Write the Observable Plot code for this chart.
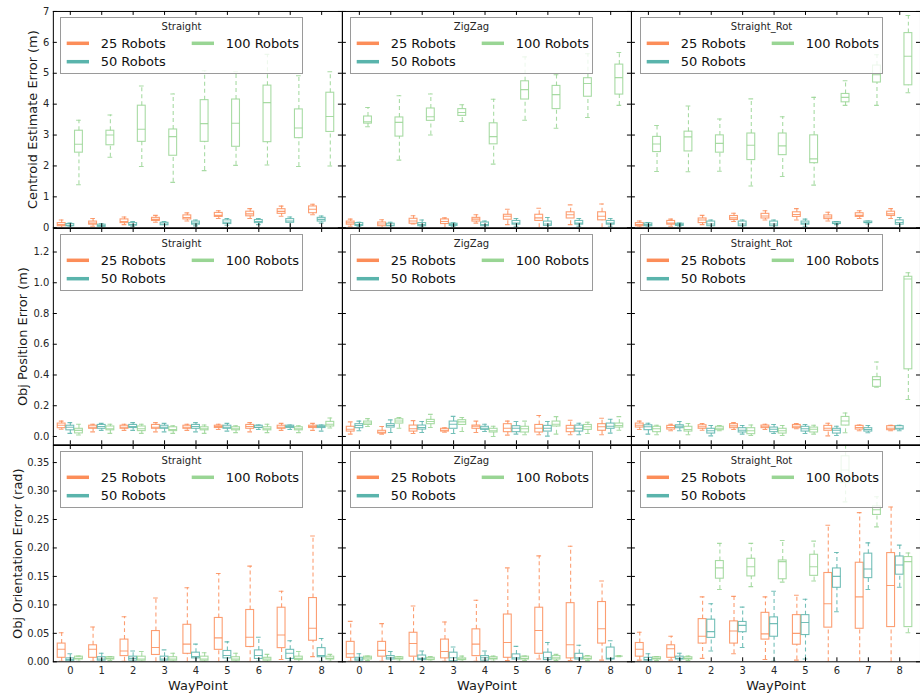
<!DOCTYPE html>
<html><head><meta charset="utf-8">
<script src="https://cdn.jsdelivr.net/npm/d3@7"></script>
<script src="https://cdn.jsdelivr.net/npm/@observablehq/plot@0.6"></script>
<style>
html,body{margin:0;padding:0;overflow:hidden;background:#fff;width:920px;height:698px}
#fig{position:relative;width:920px;height:698px;overflow:hidden;font-family:"DejaVu Sans",sans-serif}
#fig > div, #fig > svg{position:absolute}
</style></head><body><div id="fig"></div>
<script>
// ---------- categories / labels ----------
const patterns = ["Straight", "ZigZag", "Straight_Rot"];
const series = ["25 Robots", "50 Robots", "100 Robots"];
const seriesColors = ["#fc8d59", "#5ab4ac", "#99d594"];
const waypoints = [0, 1, 2, 3, 4, 5, 6, 7, 8];
const metricLabels = ["Centroid Estimate Error (m)", "Obj Position Error (m)", "Obj Orientation Error (rad)"];
const xLabel = "WayPoint";
const cenTicks = [0, 1, 2, 3, 4, 5, 6, 7];
const posTicks = [0, 0.2, 0.4, 0.6, 0.8, 1.0, 1.2];
const oriTicks = [0, 0.05, 0.10, 0.15, 0.20, 0.25, 0.30, 0.35];

// ---------- box statistics per waypoint: [low whisker, Q1, median, Q3, high whisker] ----------
// Centroid Estimate Error (m)
const cenStraight25 = [[0.0,0.05,0.1,0.15,0.25],[0.05,0.1,0.15,0.2,0.3],[0.1,0.15,0.2,0.27,0.35],[0.18,0.22,0.27,0.32,0.4],[0.22,0.27,0.33,0.4,0.48],[0.3,0.35,0.4,0.48,0.55],[0.3,0.37,0.45,0.52,0.62],[0.37,0.45,0.53,0.6,0.7],[0.42,0.47,0.6,0.69,0.76]];
const cenStraight50 = [[0.02,0.05,0.08,0.12,0.15],[0.0,0.03,0.07,0.1,0.13],[0.03,0.07,0.1,0.15,0.2],[0.0,0.08,0.12,0.16,0.2],[0.06,0.1,0.15,0.2,0.25],[0.08,0.12,0.18,0.24,0.3],[0.1,0.15,0.2,0.25,0.3],[0.0,0.16,0.22,0.28,0.35],[0.15,0.2,0.27,0.32,0.38]];
const cenStraight100 = [[1.39,2.43,2.70,3.14,3.48],[2.28,2.67,3.0,3.14,3.65],[1.98,2.78,3.19,3.95,4.59],[1.47,2.33,2.95,3.18,4.33],[1.85,2.78,3.37,4.13,5.08],[2.02,2.62,3.38,4.15,5.05],[2.03,2.77,4.05,4.60,5.61],[1.98,2.90,3.23,3.83,4.92],[2.0,3.10,3.60,4.37,5.05]];
const cenZigZag25 = [[0.05,0.1,0.16,0.2,0.28],[0.0,0.05,0.12,0.17,0.26],[0.12,0.13,0.22,0.29,0.39],[0.0,0.12,0.2,0.27,0.32],[0.15,0.2,0.28,0.32,0.42],[0.1,0.26,0.37,0.42,0.6],[0.0,0.22,0.32,0.42,0.63],[0.1,0.3,0.42,0.5,0.74],[0.0,0.24,0.37,0.5,0.77]];
const cenZigZag50 = [[0.03,0.06,0.1,0.15,0.18],[0.0,0.05,0.08,0.13,0.18],[0.02,0.05,0.1,0.15,0.25],[0.03,0.06,0.1,0.13,0.16],[0.0,0.05,0.1,0.17,0.22],[0.05,0.1,0.15,0.22,0.3],[0.0,0.06,0.12,0.2,0.33],[0.05,0.1,0.15,0.22,0.3],[0.05,0.1,0.15,0.22,0.3]];
const cenZigZag100 = [[3.27,3.37,3.43,3.60,3.89],[2.19,2.95,3.41,3.57,4.27],[3.0,3.46,3.59,3.86,4.33],[3.44,3.62,3.73,3.84,3.98],[2.06,2.70,2.95,3.38,4.16],[3.48,4.15,4.47,4.74,5.53],[3.22,3.84,4.31,4.59,4.95],[3.57,4.24,4.67,4.84,5.63],[3.96,4.31,4.86,5.28,5.67]];
const cenRot25 = [[0.02,0.05,0.1,0.15,0.22],[0.05,0.1,0.15,0.22,0.28],[0.1,0.15,0.25,0.3,0.4],[0.2,0.25,0.32,0.38,0.47],[0.25,0.3,0.38,0.45,0.55],[0.25,0.35,0.43,0.5,0.62],[0.22,0.28,0.35,0.4,0.5],[0.3,0.35,0.4,0.47,0.55],[0.3,0.38,0.45,0.52,0.62]];
const cenRot50 = [[0.02,0.05,0.1,0.14,0.17],[0.02,0.06,0.1,0.13,0.15],[0.0,0.05,0.12,0.2,0.25],[0.0,0.05,0.12,0.2,0.25],[0.0,0.05,0.12,0.2,0.25],[0.05,0.1,0.15,0.2,0.28],[0.1,0.12,0.15,0.18,0.2],[0.12,0.15,0.17,0.2,0.22],[0.0,0.1,0.17,0.24,0.33]];
const cenRot100 = [[1.82,2.45,2.71,2.94,3.31],[1.81,2.47,2.94,3.11,3.94],[1.83,2.43,2.73,2.99,3.52],[1.35,2.19,2.67,3.05,4.17],[1.66,2.35,2.65,3.05,3.59],[1.38,2.09,2.23,2.99,4.22],[3.96,4.06,4.22,4.33,4.76],[3.96,4.70,4.95,5.25,5.60],[4.37,4.61,5.55,6.30,6.87]];
// Obj Position Error (m)
const posStraight25 = [[0.047,0.054,0.073,0.084,0.10],[0.03,0.05,0.06,0.07,0.08],[0.04,0.05,0.06,0.07,0.08],[0.03,0.05,0.06,0.075,0.09],[0.04,0.05,0.06,0.07,0.08],[0.045,0.055,0.065,0.07,0.08],[0.03,0.05,0.065,0.075,0.09],[0.04,0.05,0.06,0.07,0.085],[0.04,0.055,0.065,0.07,0.085]];
const posStraight50 = [[0.02,0.04,0.06,0.07,0.09],[0.04,0.05,0.065,0.075,0.085],[0.04,0.055,0.065,0.075,0.09],[0.03,0.05,0.06,0.07,0.085],[0.03,0.05,0.065,0.075,0.09],[0.035,0.05,0.06,0.07,0.085],[0.045,0.055,0.06,0.07,0.075],[0.045,0.055,0.065,0.07,0.075],[0.035,0.055,0.065,0.07,0.075]];
const posStraight100 = [[0.01,0.02,0.04,0.05,0.08],[0.02,0.04,0.05,0.065,0.08],[0.02,0.035,0.05,0.065,0.08],[0.02,0.035,0.045,0.06,0.07],[0.02,0.04,0.05,0.06,0.075],[0.025,0.04,0.05,0.06,0.07],[0.025,0.04,0.05,0.06,0.08],[0.025,0.04,0.05,0.06,0.07],[0.055,0.065,0.08,0.095,0.12]];
const posZigZag25 = [[0.015,0.032,0.047,0.063,0.095],[0.015,0.019,0.028,0.037,0.065],[0.019,0.032,0.05,0.071,0.103],[0.028,0.032,0.041,0.05,0.056],[0.026,0.05,0.067,0.071,0.10],[0.009,0.028,0.054,0.08,0.10],[0.011,0.026,0.054,0.075,0.136],[0.011,0.028,0.054,0.069,0.106],[0.011,0.037,0.063,0.08,0.119]];
const posZigZag50 = [[0.037,0.054,0.071,0.08,0.10],[0.026,0.058,0.071,0.08,0.108],[0.026,0.045,0.058,0.071,0.097],[0.019,0.05,0.08,0.097,0.131],[0.032,0.043,0.054,0.063,0.08],[0.015,0.028,0.054,0.067,0.097],[0.002,0.032,0.054,0.069,0.097],[0.011,0.032,0.054,0.071,0.086],[0.022,0.05,0.067,0.084,0.112]];
const posZigZag100 = [[0.065,0.075,0.088,0.097,0.116],[0.054,0.084,0.101,0.112,0.123],[0.058,0.08,0.097,0.108,0.144],[0.032,0.075,0.095,0.106,0.123],[0.0,0.026,0.037,0.05,0.067],[0.011,0.026,0.05,0.063,0.10],[0.015,0.065,0.08,0.097,0.129],[0.019,0.043,0.063,0.075,0.093],[0.041,0.058,0.071,0.084,0.129]];
const posRot25 = [[0.045,0.058,0.073,0.084,0.10],[0.037,0.045,0.058,0.069,0.08],[0.041,0.05,0.063,0.073,0.084],[0.045,0.054,0.069,0.08,0.09],[0.045,0.054,0.063,0.071,0.08],[0.05,0.054,0.067,0.075,0.084],[0.004,0.037,0.054,0.069,0.086],[0.037,0.045,0.058,0.069,0.075],[0.037,0.041,0.054,0.067,0.073]];
const posRot50 = [[0.015,0.041,0.063,0.073,0.086],[0.037,0.054,0.067,0.073,0.097],[0.004,0.019,0.037,0.05,0.071],[0.015,0.026,0.041,0.054,0.071],[0.019,0.028,0.047,0.058,0.078],[0.019,0.032,0.05,0.063,0.078],[0.006,0.019,0.041,0.05,0.067],[0.024,0.032,0.045,0.054,0.071],[0.037,0.045,0.054,0.067,0.073]];
const posRot100 = [[0.011,0.028,0.05,0.063,0.073],[0.011,0.032,0.045,0.063,0.084],[0.037,0.041,0.054,0.063,0.071],[0.006,0.015,0.037,0.054,0.075],[0.006,0.019,0.037,0.05,0.071],[0.015,0.026,0.047,0.058,0.073],[0.024,0.071,0.101,0.127,0.153],[0.32,0.323,0.37,0.386,0.485],[0.241,0.437,1.024,1.039,1.065]];
// Obj Orientation Error (rad)
const oriStraight25 = [[0.001,0.007,0.022,0.032,0.051],[0.001,0.007,0.022,0.029,0.061],[0.001,0.01,0.019,0.039,0.079],[0.0,0.012,0.025,0.054,0.112],[0.0,0.014,0.031,0.065,0.130],[0.0,0.021,0.042,0.077,0.155],[0.0,0.026,0.043,0.091,0.168],[0.004,0.024,0.047,0.095,0.124],[0.009,0.037,0.059,0.112,0.221]];
const oriStraight50 = [[0.0,0.001,0.004,0.006,0.014],[0.0,0.002,0.005,0.008,0.015],[0.0,0.002,0.006,0.009,0.019],[0.0,0.002,0.005,0.009,0.021],[0.0,0.006,0.009,0.016,0.031],[0.001,0.006,0.011,0.019,0.035],[0.001,0.005,0.011,0.020,0.043],[0.001,0.005,0.015,0.021,0.037],[0.001,0.008,0.011,0.024,0.041]];
const oriStraight100 = [[0.001,0.004,0.006,0.009,0.01],[0.002,0.004,0.006,0.008,0.009],[0.0,0.002,0.005,0.009,0.018],[0.0,0.002,0.005,0.008,0.015],[0.0,0.002,0.005,0.009,0.016],[0.0,0.002,0.005,0.008,0.015],[0.0,0.002,0.005,0.007,0.013],[0.0,0.003,0.006,0.009,0.018],[0.001,0.004,0.006,0.009,0.013]];
const oriZigZag25 = [[0.001,0.007,0.014,0.035,0.071],[0.001,0.009,0.020,0.035,0.067],[0.001,0.009,0.032,0.051,0.098],[0.001,0.006,0.018,0.039,0.070],[0.001,0.010,0.031,0.057,0.108],[0.002,0.007,0.034,0.083,0.165],[0.005,0.014,0.055,0.095,0.186],[0.002,0.006,0.030,0.103,0.203],[0.003,0.032,0.058,0.105,0.142]];
const oriZigZag50 = [[0.0,0.002,0.005,0.007,0.014],[0.0,0.004,0.007,0.010,0.018],[0.0,0.003,0.006,0.011,0.019],[0.0,0.001,0.007,0.016,0.026],[0.0,0.002,0.007,0.010,0.019],[0.0,0.004,0.007,0.013,0.027],[0.0,0.003,0.007,0.016,0.034],[0.0,0.004,0.007,0.014,0.029],[0.0,0.004,0.006,0.025,0.037]];
const oriZigZag100 = [[0.002,0.004,0.007,0.009,0.010],[0.001,0.004,0.006,0.008,0.009],[0.001,0.003,0.005,0.007,0.009],[0.001,0.003,0.005,0.006,0.010],[0.001,0.004,0.006,0.008,0.010],[0.002,0.004,0.006,0.009,0.010],[0.002,0.004,0.007,0.010,0.013],[0.002,0.004,0.006,0.009,0.011],[0.009,0.010,0.010,0.010,0.011]];
const oriRot25 = [[0.003,0.009,0.022,0.033,0.052],[0.003,0.007,0.023,0.029,0.045],[0.006,0.032,0.045,0.075,0.114],[0.014,0.032,0.054,0.071,0.115],[0.004,0.039,0.049,0.086,0.114],[0.003,0.030,0.050,0.082,0.117],[0.0,0.060,0.102,0.156,0.240],[0.0,0.058,0.114,0.174,0.262],[0.0,0.061,0.134,0.191,0.272]];
const oriRot50 = [[0.0,0.002,0.004,0.007,0.014],[0.001,0.004,0.006,0.009,0.015],[0.019,0.042,0.053,0.074,0.102],[0.025,0.052,0.064,0.070,0.096],[0.001,0.044,0.067,0.078,0.124],[0.005,0.047,0.069,0.082,0.110],[0.088,0.130,0.150,0.164,0.192],[0.127,0.147,0.163,0.190,0.209],[0.131,0.153,0.170,0.185,0.205]];
const oriRot100 = [[0.002,0.004,0.006,0.008,0.009],[0.002,0.004,0.006,0.008,0.010],[0.127,0.146,0.165,0.177,0.208],[0.132,0.150,0.167,0.181,0.208],[0.140,0.145,0.176,0.178,0.213],[0.142,0.151,0.167,0.188,0.212],[0.281,0.314,0.337,0.361,0.40],[0.237,0.258,0.267,0.273,0.290],[0.051,0.061,0.176,0.184,0.191]];

// ---------- layout ----------
const LEFT = 53, PANEL_W = 290, ROW_H = 217;
const rowTops = [11, 228, 445];
const seriesOffset = [-0.275, 0, 0.275];
const BOX_HALF = 0.125, CAP_HALF = 0.075;

const rows = [
  {label: metricLabels[0], domain: [0, 7], ticks: cenTicks, fmt: d3.format("d"), labelDx: -21,
   data: [[cenStraight25, cenStraight50, cenStraight100], [cenZigZag25, cenZigZag50, cenZigZag100], [cenRot25, cenRot50, cenRot100]]},
  {label: metricLabels[1], domain: [-0.054, 1.353], ticks: posTicks, fmt: d3.format(".1f"), labelDx: -31,
   data: [[posStraight25, posStraight50, posStraight100], [posZigZag25, posZigZag50, posZigZag100], [posRot25, posRot50, posRot100]]},
  {label: metricLabels[2], domain: [0, 0.38], ticks: oriTicks, fmt: d3.format(".2f"), labelDx: -36,
   data: [[oriStraight25, oriStraight50, oriStraight100], [oriZigZag25, oriZigZag50, oriZigZag100], [oriRot25, oriRot50, oriRot100]]}
];

const fig = document.getElementById("fig");
const pos = d => d.wp + seriesOffset[d.si];

rows.forEach((row, r) => {
  const records = [];
  patterns.forEach((p, pi) => series.forEach((s, si) => waypoints.forEach((w, wi) => {
    const [lo, q1, med, q3, hi] = row.data[pi][si][wi];
    records.push({pattern: p, series: s, si, wp: w, lo, q1, med, q3, hi});
  })));
  const last = r === rows.length - 1;
  const marginTop = r === 0 ? rowTops[0] : 0;
  const marginBottom = last ? 698 - rowTops[2] - ROW_H : 0;
  const marks = [];
  series.forEach((s, si) => {
    const d = records.filter(e => e.si === si);
    const common = {fx: "pattern", stroke: "series", strokeOpacity: 0.85, strokeWidth: 1.1, clip: true};
    marks.push(
      Plot.ruleX(d, {...common, x: pos, y1: "lo", y2: "q1", strokeDasharray: "4,3"}),
      Plot.ruleX(d, {...common, x: pos, y1: "q3", y2: "hi", strokeDasharray: "4,3"}),
      Plot.ruleY(d, {...common, y: "lo", x1: e => pos(e) - CAP_HALF, x2: e => pos(e) + CAP_HALF}),
      Plot.ruleY(d, {...common, y: "hi", x1: e => pos(e) - CAP_HALF, x2: e => pos(e) + CAP_HALF}),
      Plot.rect(d, {...common, fill: "none", x1: e => pos(e) - BOX_HALF, x2: e => pos(e) + BOX_HALF, y1: "q1", y2: "q3"}),
      Plot.ruleY(d, {...common, y: "med", x1: e => pos(e) - BOX_HALF, x2: e => pos(e) + BOX_HALF})
    );
  });
  marks.push(
    Plot.frame({stroke: "black", strokeWidth: 1}),
    Plot.tickX(waypoints, {x: d => d, insetTop: ROW_H - 4, stroke: "black"}),
    Plot.tickX(waypoints, {x: d => d, insetBottom: ROW_H - 4, stroke: "black"}),
    Plot.tickY(row.ticks, {y: d => d, insetRight: PANEL_W - 4, stroke: "black"}),
    Plot.tickY(row.ticks, {y: d => d, insetLeft: PANEL_W - 4, stroke: "black"}),
    Plot.axisY(row.ticks, {anchor: "left", tickSize: 0, tickPadding: 4, tickFormat: row.fmt, label: null, facetAnchor: "left", fontSize: 10}),
    Plot.text([patterns[0]], {fx: d => d, frameAnchor: "left", dx: row.labelDx, rotate: -90, textAnchor: "middle", lineAnchor: "middle", text: () => row.label, fontSize: 13, fill: "#1a1a1a"})
  );
  if (last) {
    marks.push(
      Plot.axisX(waypoints, {anchor: "bottom", tickSize: 0, tickPadding: 5, tickFormat: d => String(d), label: null, facetAnchor: "bottom", fontSize: 10}),
      Plot.text(patterns, {fx: d => d, frameAnchor: "bottom", dy: 24, lineAnchor: "middle", textAnchor: "middle", text: () => xLabel, fontSize: 13, fill: "#1a1a1a"})
    );
  }
  const chart = Plot.plot({
    width: LEFT + PANEL_W * 3, height: marginTop + ROW_H + marginBottom,
    marginLeft: LEFT, marginRight: 0, marginTop, marginBottom,
    style: {fontFamily: "DejaVu Sans, sans-serif", fontSize: "10px", color: "#262626", overflow: "visible", background: "transparent"},
    fx: {domain: patterns, padding: 0, axis: null},
    x: {domain: [-0.54, 8.66], axis: null},
    y: {domain: row.domain, axis: null},
    color: {domain: series, range: seriesColors},
    marks
  });
  chart.style.position = "absolute";
  chart.style.left = "0px";
  chart.style.top = (r === 0 ? 0 : rowTops[r]) + "px";
  fig.appendChild(chart);
});

// ---------- legends (one per panel) ----------
const legendSlots = [{x: 6.7, y: 26.3}, {x: 6.7, y: 44.7}, {x: 131.7, y: 26.3}];
rows.forEach((row, r) => {
  patterns.forEach((p, pi) => {
    const svg = d3.create("svg").attr("width", 244).attr("height", 58)
      .style("position", "absolute").style("overflow", "visible")
      .style("left", (LEFT + pi * PANEL_W + 6.5) + "px").style("top", (rowTops[r] + 6) + "px")
      .style("font-family", "DejaVu Sans, sans-serif");
    svg.append("rect").attr("x", 0.5).attr("y", 0.5).attr("width", 242).attr("height", 56)
      .attr("fill", "white").attr("fill-opacity", 0.8).attr("stroke", "#9a9a9a");
    svg.append("text").attr("x", 121.5).attr("y", 12.5).attr("text-anchor", "middle")
      .attr("font-size", 10).attr("fill", "#262626").text(p);
    series.forEach((s, si) => {
      const slot = legendSlots[si];
      svg.append("line").attr("x1", slot.x).attr("x2", slot.x + 22.3).attr("y1", slot.y).attr("y2", slot.y)
        .attr("stroke", seriesColors[si]).attr("stroke-width", 3.5);
      svg.append("text").attr("x", slot.x + 34).attr("y", slot.y).attr("dy", "0.36em")
        .attr("font-size", 13).attr("fill", "#111").text(s);
    });
    fig.appendChild(svg.node());
  });
});
</script></body></html>
